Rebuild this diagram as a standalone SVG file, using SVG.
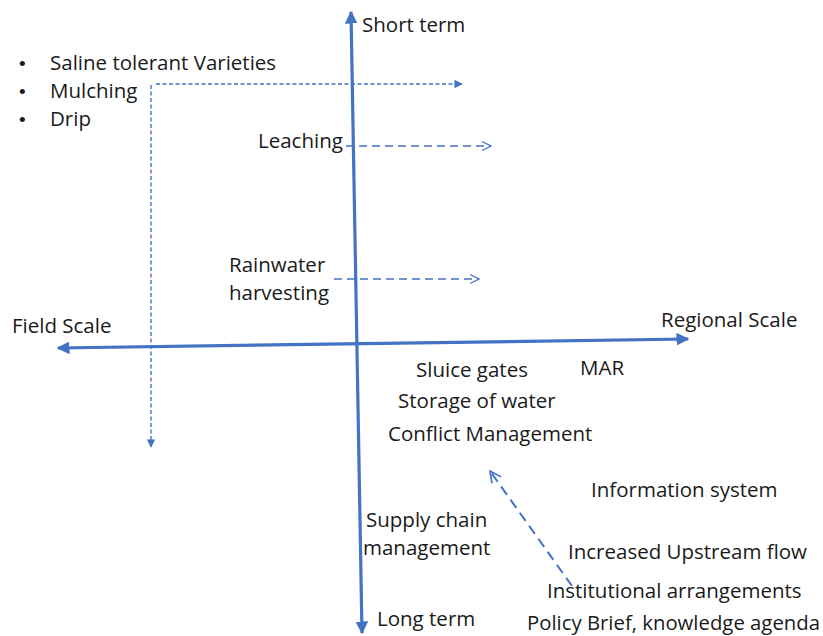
<svg xmlns="http://www.w3.org/2000/svg" width="823" height="636" viewBox="0 0 823 636">
<style>
text{font-family:"Open Sans","Liberation Sans",sans-serif;font-size:20.5px;fill:#1a1a1a}
.bul{font-family:"Liberation Sans",sans-serif;font-size:19px}
.axis{stroke:#4472C4;stroke-width:3.2;fill:none}
.fine{stroke:#4472C4;stroke-width:1.4;fill:none;stroke-dasharray:4 2.5}
.dash{stroke:#4472C4;stroke-width:1.4;fill:none;stroke-dasharray:8 5}
.diag{stroke:#4472C4;stroke-width:2;fill:none;stroke-dasharray:10 6}
</style>
<defs>
<marker id="big" viewBox="0 0 10 10" refX="9" refY="5" markerWidth="4" markerHeight="4" orient="auto-start-reverse" markerUnits="strokeWidth"><path d="M0,0 L10,5 L0,10 z" fill="#4472C4"/></marker>
<marker id="small" viewBox="0 0 10 10" refX="9" refY="5" markerWidth="6" markerHeight="6" orient="auto" markerUnits="strokeWidth"><path d="M0,0 L10,5 L0,10 z" fill="#4472C4"/></marker>
<marker id="open" viewBox="0 0 10 10" refX="9" refY="5" markerWidth="8" markerHeight="8" orient="auto" markerUnits="strokeWidth"><path d="M1,1 L9,5 L1,9" fill="none" stroke="#4472C4" stroke-width="1.2"/></marker>
<marker id="open2" viewBox="0 0 10 10" refX="9" refY="5" markerWidth="7" markerHeight="7" orient="auto" markerUnits="strokeWidth"><path d="M1,1 L9,5 L1,9" fill="none" stroke="#4472C4" stroke-width="1.2"/></marker>
</defs>
<g id="connectors">
<line class="axis" x1="362" y1="633" x2="351" y2="12" marker-start="url(#big)" marker-end="url(#big)"/>
<line class="axis" x1="58" y1="348" x2="688" y2="339" marker-start="url(#big)" marker-end="url(#big)"/>
<line class="fine" x1="156" y1="84" x2="462" y2="84" marker-end="url(#small)"/>
<line class="fine" x1="151" y1="85" x2="151" y2="447" marker-end="url(#small)"/>
<line class="dash" x1="346" y1="146" x2="491" y2="146" marker-end="url(#open)"/>
<line class="dash" x1="334" y1="279" x2="479" y2="279" marker-end="url(#open)"/>
<line class="diag" x1="572" y1="586" x2="490" y2="471" marker-end="url(#open2)"/>
</g>
<g id="short-term"><text x="362" y="32">Short term</text></g>
<g id="long-term"><text x="377" y="626">Long term</text></g>
<g id="field-scale"><text x="12" y="333">Field Scale</text></g>
<g id="regional-scale"><text x="661" y="327">Regional Scale</text></g>
<g id="field-options">
<text class="bul" x="19" y="70">•</text><text x="50" y="70">Saline tolerant Varieties</text>
<text class="bul" x="19" y="98">•</text><text x="50" y="98">Mulching</text>
<text class="bul" x="19" y="126">•</text><text x="50" y="126">Drip</text>
</g>
<g id="leaching"><text x="258" y="148">Leaching</text></g>
<g id="rainwater"><text x="229" y="272">Rainwater</text><text x="229" y="300">harvesting</text></g>
<g id="sluice"><text x="416" y="377">Sluice gates</text></g>
<g id="mar"><text x="580" y="375">MAR</text></g>
<g id="storage"><text x="398" y="408">Storage of water</text></g>
<g id="conflict"><text x="388" y="441">Conflict Management</text></g>
<g id="info"><text x="591" y="497">Information system</text></g>
<g id="supply"><text x="366" y="527">Supply chain</text><text x="363" y="555">management</text></g>
<g id="upstream"><text x="568" y="559">Increased Upstream flow</text></g>
<g id="institutional"><text x="547" y="598">Institutional arrangements</text></g>
<g id="policy"><text x="527" y="630" textLength="293" lengthAdjust="spacingAndGlyphs">Policy Brief, knowledge agenda</text></g>
</svg>
